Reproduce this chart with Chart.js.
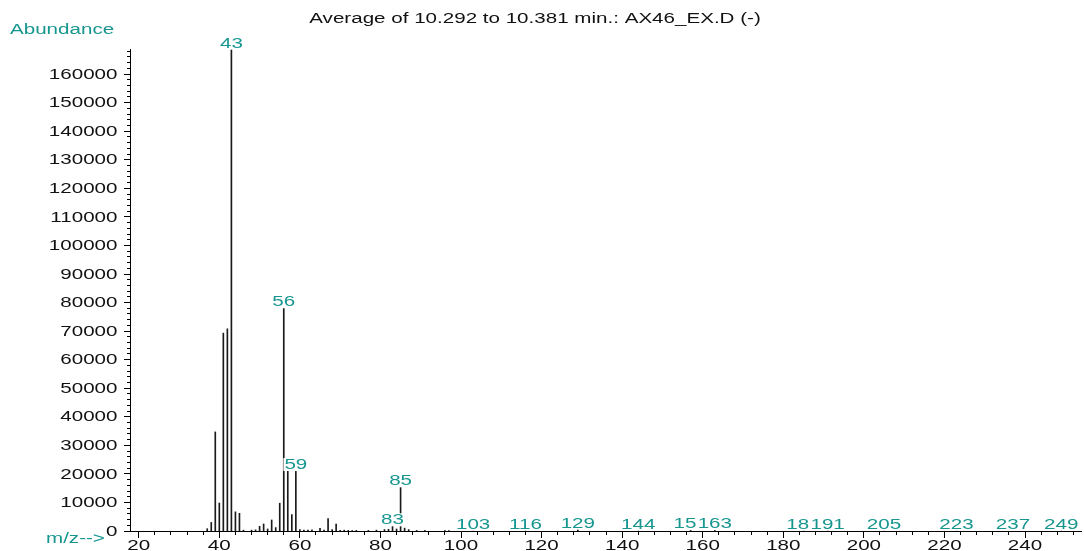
<!DOCTYPE html>
<html>
<head>
<meta charset="utf-8">
<script src="https://cdn.jsdelivr.net/npm/chart.js@4.4.1/dist/chart.umd.min.js"></script>
<style>
  html, body { margin: 0; padding: 0; background: #ffffff; }
  #wrap { width: 1085px; height: 551px; position: relative; }
  canvas { display: block; }
</style>
</head>
<body>
<div id="wrap"><canvas id="spectrum" width="1085" height="551"></canvas></div>
<script>
// Mass spectrum: averaged scan, m/z versus abundance
const TITLE = 'Average of 10.292 to 10.381 min.: AX46_EX.D (-)';
const Y_TITLE = 'Abundance';
const X_TITLE = 'm/z-->';

const mzValues = [37, 38, 39, 40, 41, 42, 43, 44, 45, 46,
                  48, 49, 50, 51, 52, 53, 54, 55, 56, 57,
                  58, 59, 60, 61, 62, 63, 65, 66, 67, 68,
                  69, 70, 71, 72, 73, 74, 77, 79, 81, 82,
                  83, 84, 85, 86, 87, 89, 91, 96, 97, 103,
                  116, 129, 144, 157, 163, 185, 191, 205, 223, 237,
                  249];
const abundances = [800, 3000, 34700, 9800, 69300, 70800, 168600, 6700, 6200, 300,
                    300, 400, 1650, 2460, 700, 3860, 1190, 9720, 78000, 21000,
                    5750, 21000, 500, 300, 300, 400, 950, 300, 4350, 500,
                    2460, 200, 300, 200, 150, 200, 200, 300, 500, 600,
                    1650, 700, 15300, 1000, 500, 200, 200, 150, 150, 100,
                    100, 500, 100, 300, 300, 100, 100, 100, 100, 20,
                    100];

// peaks that carry an m/z label (drawn in this order, later ones on top)
const labeledPeaks = [43, 56, 59, 83, 85, 103, 116, 129, 144, 157, 163, 185, 191, 205, 223, 237, 249];

const xTickLabels = [20, 40, 60, 80, 100, 120, 140, 160, 180, 200, 220, 240];
const yTickLabels = [0, 10000, 20000, 30000, 40000, 50000, 60000, 70000, 80000,
                     90000, 100000, 110000, 120000, 130000, 140000, 150000, 160000];
const X_MINOR_STEP = 4;
const Y_MINOR_STEP = 2000;

const TEAL = '#17968f';
const FONT = '"Liberation Sans", Arial, sans-serif';
const FONT_SIZE = 14;
const STRETCH = 1.47;   // wide lettering of the instrument printout

function wideText(ctx, txt, x, y, align, color) {
  ctx.save();
  ctx.font = FONT_SIZE + 'px ' + FONT;
  ctx.fillStyle = color;
  ctx.textAlign = align;
  ctx.textBaseline = 'alphabetic';
  ctx.translate(x, y);
  ctx.scale(STRETCH, 1);
  ctx.fillText(txt, 0, 0);
  ctx.restore();
}

function wideWidth(ctx, txt) {
  ctx.save();
  ctx.font = FONT_SIZE + 'px ' + FONT;
  const w = ctx.measureText(txt).width * STRETCH;
  ctx.restore();
  return w;
}

const axisDecor = {
  id: 'axisDecor',
  afterDraw(chart) {
    const ctx = chart.ctx;
    const xs = chart.scales.x, ys = chart.scales.y;
    const area = chart.chartArea;
    const left = Math.round(area.left), bottom = Math.round(area.bottom);
    ctx.save();
    ctx.fillStyle = '#000';
    // y tick marks
    for (let v = 0; v <= ys.max; v += Y_MINOR_STEP) {
      const py = Math.floor(ys.getPixelForValue(v));
      const major = yTickLabels.includes(v);
      const len = major ? 6 : 3;
      ctx.fillRect(left - len, py, len, 1);
    }
    // x tick marks
    for (let m = xTickLabels[0]; m <= xs.max; m += X_MINOR_STEP) {
      const px = Math.floor(xs.getPixelForValue(m));
      const major = xTickLabels.includes(m);
      ctx.fillRect(px, bottom + 1, 1, major ? 6 : 3);
    }
    ctx.restore();

    // tick labels
    yTickLabels.forEach(v => {
      wideText(ctx, String(v), left - 12.5, ys.getPixelForValue(v) + 4.7, 'right', '#111');
    });
    xTickLabels.forEach(m => {
      wideText(ctx, String(m), xs.getPixelForValue(m), 550, 'center', '#111');
    });

    // titles
    wideText(ctx, TITLE, 535, 23, 'center', '#111');
    wideText(ctx, Y_TITLE, 10, 34, 'left', TEAL);
    wideText(ctx, X_TITLE, 46, 543, 'left', TEAL);
  },
  afterDatasetsDraw(chart) {
    const ctx = chart.ctx;
    const xs = chart.scales.x, ys = chart.scales.y;
    labeledPeaks.forEach(mz => {
      const i = mzValues.indexOf(mz);
      if (i < 0) return;
      const txt = String(mz);
      const px = xs.getPixelForValue(mz);
      const base = ys.getPixelForValue(abundances[i]) - 2;
      const w = wideWidth(ctx, txt);
      ctx.save();
      ctx.fillStyle = '#ffffff';
      ctx.fillRect(px - w / 2 - 1, base - 11, w + 2, 13);
      ctx.restore();
      wideText(ctx, txt, px, base, 'center', TEAL);
    });
  }
};

new Chart(document.getElementById('spectrum'), {
  type: 'bar',
  data: {
    datasets: [{
      data: mzValues.map((m, i) => ({ x: m, y: abundances[i] })),
      backgroundColor: '#1a1a1a',
      borderWidth: 0,
      barThickness: 1
    }]
  },
  options: {
    responsive: false,
    animation: false,
    devicePixelRatio: 1,
    layout: { padding: { left: 0, top: 49, right: 4, bottom: 0 } },
    plugins: { legend: { display: false }, tooltip: { enabled: false }, title: { display: false } },
    scales: {
      x: {
        type: 'linear',
        min: 17.83,
        max: 253.9,
        offset: false,
        grid: { display: false, offset: false },
        border: { display: true, color: '#000', width: 1 },
        ticks: { display: false },
        afterFit(scale) { scale.height = 20; }
      },
      y: {
        min: 0,
        max: 168800,
        grid: { display: false },
        border: { display: true, color: '#000', width: 1 },
        ticks: { display: false },
        afterFit(scale) { scale.width = 130; }
      }
    }
  },
  plugins: [axisDecor]
});
</script>
</body>
</html>
